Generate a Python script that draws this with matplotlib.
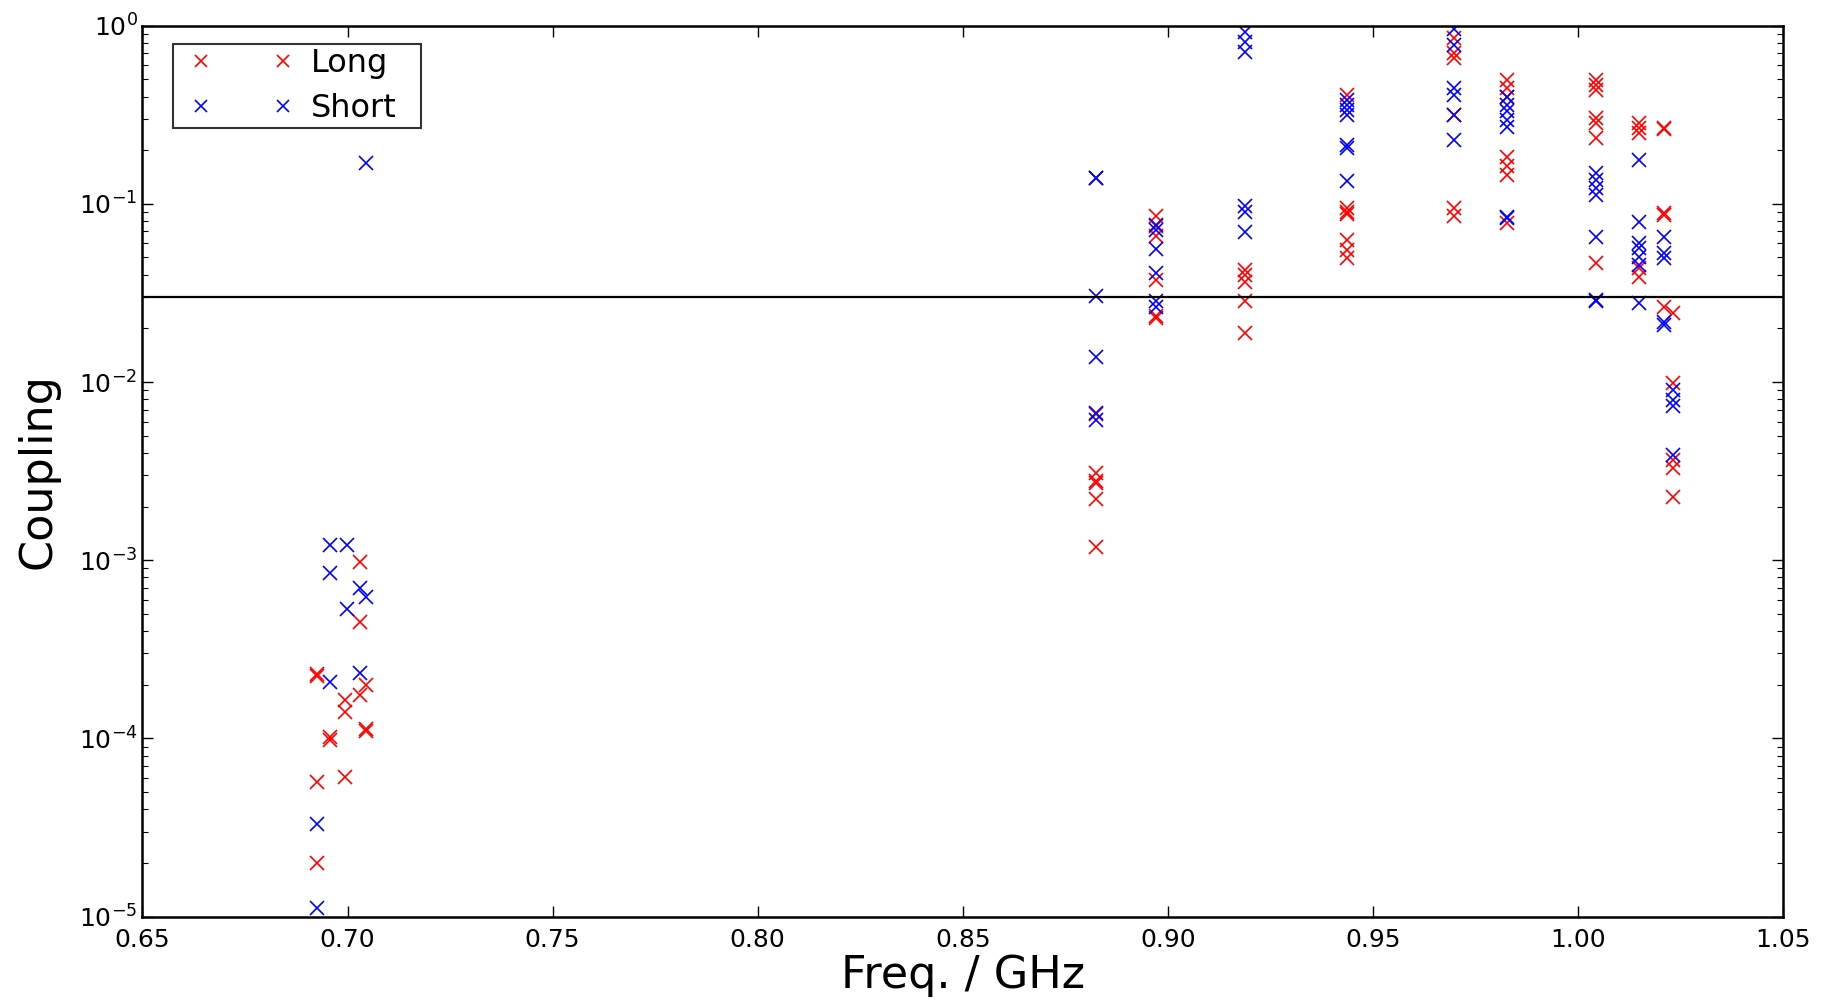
import matplotlib
matplotlib.use("Agg")
import matplotlib.pyplot as plt
from matplotlib.lines import Line2D
from matplotlib.legend_handler import HandlerLine2D

plt.rcParams['font.family'] = ['DejaVu Sans']
plt.rcParams['mathtext.default'] = 'regular'

# Long mode coupling (red)
long_freq = [0.6925, 0.6925, 0.6925, 0.6925,
             0.6957, 0.6957,
             0.6995, 0.6995, 0.6995,
             0.7030, 0.7030, 0.7030,
             0.7045, 0.7045, 0.7045,
             0.8825, 0.8825, 0.8825, 0.8825, 0.8825, 0.8825,
             0.8970, 0.8970, 0.8970, 0.8970, 0.8970, 0.8970,
             0.9188, 0.9188, 0.9188, 0.9188, 0.9188,
             0.9437, 0.9437, 0.9437, 0.9437, 0.9437, 0.9437, 0.9437,
             0.9697, 0.9697, 0.9697, 0.9697, 0.9697, 0.9697,
             0.9827, 0.9827, 0.9827, 0.9827, 0.9827, 0.9827, 0.9827,
             1.0043, 1.0043, 1.0043, 1.0043, 1.0043, 1.0043, 1.0043,
             1.0148, 1.0148, 1.0148, 1.0148, 1.0148,
             1.0210, 1.0210, 1.0210, 1.0210, 1.0210,
             1.0232, 1.0232, 1.0232, 1.0232, 1.0232]
long_coup = [2.3e-4, 2.25e-4, 5.7e-5, 2.0e-5,
             1.02e-4, 0.98e-4,
             1.65e-4, 1.4e-4, 6.1e-5,
             9.8e-4, 4.5e-4, 1.75e-4,
             2.0e-4, 1.13e-4, 1.1e-4,
             6.6e-3, 3.1e-3, 2.8e-3, 2.7e-3, 2.2e-3, 1.19e-3,
             0.085, 0.075, 0.066, 0.0374, 0.0235, 0.0228,
             0.0426, 0.040, 0.0366, 0.0286, 0.0189,
             0.408, 0.095, 0.090, 0.088, 0.0627, 0.0551, 0.0495,
             0.85, 0.70, 0.66, 0.315, 0.0945, 0.085,
             0.496, 0.445, 0.40, 0.184, 0.162, 0.145, 0.078,
             0.496, 0.465, 0.436, 0.302, 0.283, 0.233, 0.0464,
             0.283, 0.266, 0.249, 0.0435, 0.039,
             0.266, 0.262, 0.0886, 0.087, 0.0265,
             0.0243, 9.85e-3, 3.65e-3, 3.3e-3, 2.27e-3]

# Short mode coupling (blue)
short_freq = [0.6925, 0.6925,
              0.6957, 0.6957, 0.6957,
              0.6998, 0.6998,
              0.7030, 0.7030,
              0.7045, 0.7045,
              0.8825, 0.8825, 0.8825, 0.8825, 0.8825, 0.8825,
              0.8970, 0.8970, 0.8970, 0.8970, 0.8970, 0.8970,
              0.9188, 0.9188, 0.9188, 0.9188, 0.9188, 0.9188,
              0.9437, 0.9437, 0.9437, 0.9437, 0.9437, 0.9437, 0.9437,
              0.9697, 0.9697, 0.9697, 0.9697, 0.9697, 0.9697,
              0.9827, 0.9827, 0.9827, 0.9827, 0.9827, 0.9827, 0.9827,
              1.0043, 1.0043, 1.0043, 1.0043, 1.0043, 1.0043, 1.0043,
              1.0148, 1.0148, 1.0148, 1.0148, 1.0148, 1.0148, 1.0148,
              1.0210, 1.0210, 1.0210, 1.0210, 1.0210,
              1.0232, 1.0232, 1.0232, 1.0232]
short_coup = [3.3e-5, 1.12e-5,
              1.22e-3, 8.5e-4, 2.08e-4,
              1.22e-3, 5.3e-4,
              7.0e-4, 2.34e-4,
              6.2e-4, 0.17,
              0.14, 0.139, 0.0305, 0.0139, 6.7e-3, 6.1e-3,
              0.076, 0.071, 0.0556, 0.041, 0.0283, 0.0265,
              0.92, 0.81, 0.71, 0.0973, 0.0904, 0.0698,
              0.383, 0.359, 0.336, 0.315, 0.215, 0.205, 0.134,
              0.96, 0.78, 0.445, 0.41, 0.315, 0.228,
              0.40, 0.359, 0.33, 0.296, 0.271, 0.0848, 0.083,
              0.148, 0.136, 0.122, 0.112, 0.0655, 0.0289, 0.0285,
              0.176, 0.0794, 0.060, 0.0563, 0.0506, 0.0454, 0.0277,
              0.0655, 0.0528, 0.0495, 0.0218, 0.0209,
              9.0e-3, 7.9e-3, 7.3e-3, 3.9e-3]

threshold = 0.03

fig = plt.figure(figsize=(18.31, 10.05), dpi=100)
ax = fig.add_axes([0.0778, 0.088, 0.896, 0.8865])

ax.plot(long_freq, long_coup, 'x', color='red', ms=10, mew=1.2, label='Long')
ax.plot(short_freq, short_coup, 'x', color='blue', ms=10, mew=1.2, label='Short')
ax.axhline(threshold, color='black', lw=1.6)

ax.set_yscale('log')
ax.set_xlim(0.65, 1.05)
ax.set_ylim(1e-5, 1)
ax.set_xticks([0.65, 0.70, 0.75, 0.80, 0.85, 0.90, 0.95, 1.00, 1.05])
ax.set_xticklabels(['0.65', '0.70', '0.75', '0.80', '0.85', '0.90', '0.95', '1.00', '1.05'])

ax.tick_params(which='both', direction='in', top=True, right=True, labelsize=18)
ax.tick_params(which='major', length=8, width=1)
ax.tick_params(which='minor', length=4, width=0.8)
ax.tick_params(axis='x', which='major', pad=8)
for s in ax.spines.values():
    s.set_linewidth(1.8)

ax.set_xlabel('Freq. / GHz', fontsize=32, labelpad=2)
ax.set_ylabel('Coupling', fontsize=32, labelpad=14)

# old-style legend: two markers per entry, square frame
leg = ax.legend(loc='upper left', bbox_to_anchor=(0.0185, 0.879, 0.151, 0.1),
                mode='expand', borderaxespad=0,
                numpoints=2, fontsize=23, fancybox=False,
                markerscale=0.9, handlelength=4.09,
                borderpad=0.13, labelspacing=0.42, handletextpad=0.1,
                handler_map={Line2D: HandlerLine2D(marker_pad=0.76, numpoints=2)})
leg.get_frame().set_edgecolor('black')
leg.get_frame().set_linewidth(1.5)

plt.savefig('out.png', dpi=100)
